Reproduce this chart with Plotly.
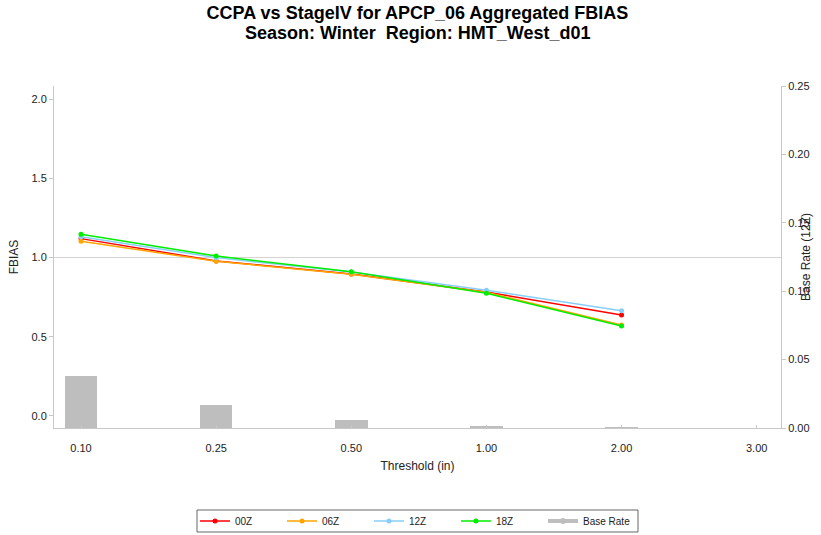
import plotly.graph_objects as go

thresholds = ["0.10", "0.25", "0.50", "1.00", "2.00", "3.00"]
line_thresholds = ["0.10", "0.25", "0.50", "1.00", "2.00"]
fbias_00z = [1.119, 0.978, 0.896, 0.782, 0.637]
fbias_06z = [1.102, 0.976, 0.894, 0.780, 0.574]
fbias_12z = [1.131, 0.999, 0.908, 0.793, 0.664]
fbias_18z = [1.146, 1.009, 0.910, 0.774, 0.568]
base_rate = [0.038, 0.0166, 0.0056, 0.0008, 0.0002, 0.0]

series_names = ["00Z", "06Z", "12Z", "18Z"]
series_vals = [fbias_00z, fbias_06z, fbias_12z, fbias_18z]
series_colors = ["#FF0000", "#FFA500", "#87CEFA", "#00EE00"]

title_line1 = "CCPA vs StageIV for APCP_06 Aggregated FBIAS"
title_line2 = "Season: Winter  Region: HMT_West_d01"

FONT = "Liberation Sans, Arial, Helvetica, sans-serif"
AXIS_GRAY = "#C8C8C8"
H = 535
PW, PH = 727, 342  # plot area size in px

fig = go.Figure()

fig.add_trace(go.Bar(
    x=thresholds, y=base_rate, yaxis="y2", width=0.24,
    marker=dict(color="#BEBEBE", line=dict(width=0)),
    name="Base Rate", showlegend=False,
))

for name, vals, col in zip(series_names, series_vals, series_colors):
    fig.add_trace(go.Scatter(
        x=line_thresholds, y=vals, mode="lines+markers", name=name,
        line=dict(color=col, width=1.5),
        marker=dict(color=col, size=5),
    ))

# legend entry for base rate drawn as a gray line with marker
fig.add_trace(go.Scatter(
    x=[None], y=[None], mode="lines+markers", name="Base Rate",
    line=dict(color="#BEBEBE", width=4),
    marker=dict(color="#BEBEBE", size=6),
))

fig.add_shape(type="line", xref="paper", x0=0, x1=1, yref="y", y0=1, y1=1,
              line=dict(color="#D3D3D3", width=1), layer="below")

# legend frame
fig.add_shape(type="rect", xref="paper", yref="paper",
              x0=(197 - 54) / PW, x1=(638 - 54) / PW,
              y0=-(532 - 428) / PH, y1=-(510 - 428) / PH,
              line=dict(color="#666666", width=1), fillcolor="rgba(0,0,0,0)")

fig.add_annotation(
    text="Base Rate (12Z)", textangle=-90, xref="paper", yref="paper",
    x=1 + (815 - 781) / PW, y=0.5, showarrow=False,
    font=dict(family=FONT, size=12, color="#222222"),
)

fig.add_annotation(
    text="<b>" + title_line2 + "</b>", xref="paper", yref="paper",
    x=0.5, xanchor="center", y=1 + (86 - 33) / PH, yanchor="middle",
    showarrow=False, font=dict(family=FONT, size=18, color="#000000"),
)

fig.update_layout(
    width=821, height=H,
    margin=dict(l=54, r=40, t=86, b=107, autoexpand=False),
    paper_bgcolor="white", plot_bgcolor="white",
    font=dict(family=FONT, size=11, color="#222222"),
    title=dict(
        text="<b>" + title_line1 + "</b>",
        x=0.5, xanchor="center", xref="paper",
        yref="container", y=1 - 13 / H, yanchor="middle",
        font=dict(family=FONT, size=18, color="#000000"),
        automargin=False,
    ),
    xaxis=dict(
        type="category", categoryorder="array", categoryarray=thresholds,
        range=[-0.2, 5.18], showgrid=False, zeroline=False,
        showline=True, linecolor=AXIS_GRAY, linewidth=1,
        ticks="inside", ticklen=3, tickcolor=AXIS_GRAY,
        ticklabelstandoff=10, automargin=False,
        title=dict(text="Threshold (in)", standoff=8, font=dict(size=12)),
    ),
    yaxis=dict(
        range=[-0.076, 2.082], tickvals=[0, 0.5, 1.0, 1.5, 2.0], tickformat=".1f",
        showgrid=False, zeroline=False, automargin=False,
        showline=True, linecolor=AXIS_GRAY, linewidth=1,
        ticks="outside", ticklen=4, tickcolor=AXIS_GRAY,
        title=dict(text="FBIAS", standoff=10, font=dict(size=12)),
    ),
    yaxis2=dict(
        overlaying="y", side="right", range=[0, 0.25],
        tickvals=[0, 0.05, 0.10, 0.15, 0.20, 0.25], tickformat=".2f",
        showgrid=False, zeroline=False, automargin=False,
        showline=True, linecolor=AXIS_GRAY, linewidth=1,
        ticks="outside", ticklen=4, tickcolor=AXIS_GRAY,
    ),
    legend=dict(
        orientation="h", x=0.5 - 5 / PW, xanchor="center",
        y=-(521 - 428) / PH, yanchor="middle",
        borderwidth=0, bgcolor="rgba(0,0,0,0)",
        font=dict(family=FONT, size=10),
        entrywidth=42, itemwidth=30,
        traceorder="normal",
    ),
    bargap=0,
)

fig.write_html("out.html", config={"displayModeBar": False},
               post_script="document.body.style.margin='0';")
